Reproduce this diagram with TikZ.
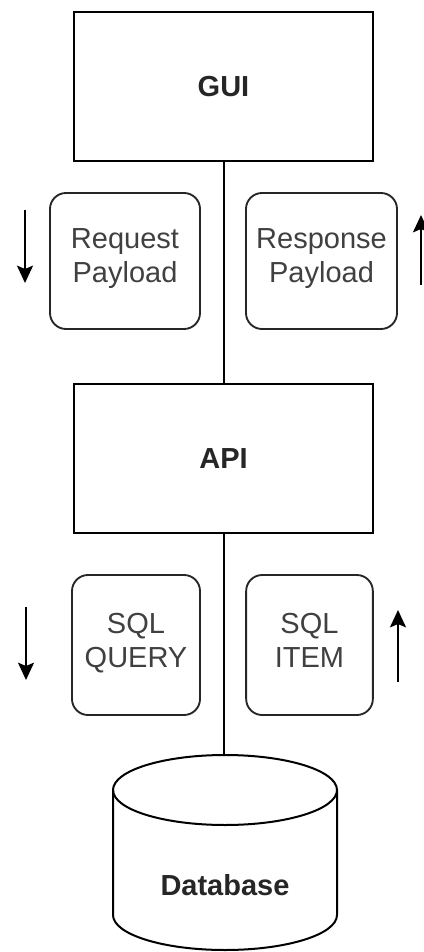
\documentclass[tikz,border=0pt]{standalone}
\usepackage{fontspec}
\setmainfont{Liberation Sans}
\usetikzlibrary{arrows.meta}

\begin{document}
\begin{tikzpicture}[x=0.75pt, y=-0.75pt,
    layer/.style={draw, line width=1.5pt, minimum width=224.25pt, minimum height=111.75pt, font=\fontsize{21.75}{25}\selectfont\bfseries, text=black!85},
    payload/.style={draw=black!85, line width=1.4pt, rounded corners=12pt, align=center, minimum height=102pt, font=\fontsize{21.75}{25.5}\selectfont, text=black!75, execute at end node=\strut},
    link/.style={line width=1.5pt},
    flow/.style={line width=1.5pt, -{Stealth[length=13pt, width=12pt, inset=2.5pt]}}]
  \useasboundingbox (0,0) rectangle (424,952);

  \node[layer] (gui) at (223.5,86.5) {GUI};
  \node[layer] (api) at (223.5,458.5) {API};
  \node[payload, minimum width=112.5pt] (req) at (125,261) {Request\\Payload};
  \node[payload, minimum width=113.25pt] (resp) at (321.5,261) {Response\\Payload};
  \node[payload, minimum width=96pt, minimum height=105pt] (query) at (136,645) {SQL\\QUERY};
  \node[payload, minimum width=95pt, minimum height=105pt] (item) at (309.5,645) {SQL\\ITEM};

  % database cylinder
  \draw[link] (113,790) -- (113,915) arc[start angle=180, end angle=360, x radius=84pt, y radius=26.25pt] -- (337,790);
  \draw[link] (225,790) ellipse[x radius=84pt, y radius=26.25pt];
  \node[font=\fontsize{21.75}{25}\selectfont\bfseries, text=black!85] (db) at (225,885) {Database};
  \coordinate (dbtop) at (223.5,755);

  \draw[link] (gui) -- (api);
  \draw[link] (api) -- (dbtop);

  \coordinate (reqa) at (25,210);   \coordinate (reqb) at (25,283);
  \coordinate (respa) at (421,285); \coordinate (respb) at (421,215);
  \coordinate (querya) at (26,607); \coordinate (queryb) at (26,680);
  \coordinate (itema) at (398,682); \coordinate (itemb) at (398,610);
  \draw[flow] (reqa) -- (reqb);
  \draw[flow] (respa) -- (respb);
  \draw[flow] (querya) -- (queryb);
  \draw[flow] (itema) -- (itemb);
\end{tikzpicture}
\end{document}
